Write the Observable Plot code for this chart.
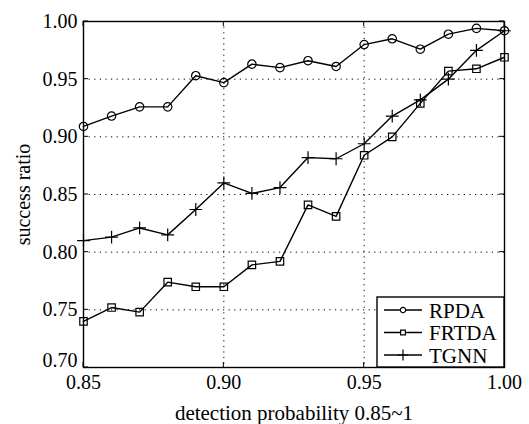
<!DOCTYPE html>
<html>
<head>
<meta charset="utf-8">
<script src="https://cdn.jsdelivr.net/npm/d3@7"></script>
<script src="https://cdn.jsdelivr.net/npm/@observablehq/plot@0.6"></script>
<style>
  html, body { margin: 0; padding: 0; background: #fff; }
  #chart svg { display: block; }
</style>
</head>
<body>
<div id="chart"></div>
<script>
const detectionProb = [0.85, 0.86, 0.87, 0.88, 0.89, 0.90, 0.91, 0.92, 0.93, 0.94, 0.95, 0.96, 0.97, 0.98, 0.99, 1.00];
const rpda  = [0.909, 0.918, 0.926, 0.926, 0.953, 0.947, 0.963, 0.960, 0.966, 0.961, 0.980, 0.985, 0.976, 0.989, 0.994, 0.992];
const frtda = [0.740, 0.752, 0.748, 0.774, 0.770, 0.770, 0.789, 0.792, 0.841, 0.831, 0.884, 0.900, 0.929, 0.957, 0.959, 0.969];
const tgnn  = [0.810, 0.813, 0.821, 0.815, 0.837, 0.860, 0.851, 0.856, 0.882, 0.881, 0.894, 0.918, 0.932, 0.950, 0.975, 0.992];
const seriesNames = ["RPDA", "FRTDA", "TGNN"];
const seriesSymbols = ["circle", "square", "plus"];
const xTicks = [0.85, 0.90, 0.95, 1.00];
const yTicks = [0.70, 0.75, 0.80, 0.85, 0.90, 0.95, 1.00];
const xLabel = "detection probability 0.85~1";
const yLabel = "success ratio";

const seriesValues = [rpda, frtda, tgnn];
const data = [];
seriesNames.forEach((name, i) => {
  detectionProb.forEach((x, j) => data.push({series: name, x, y: seriesValues[i][j]}));
});

const font = "'Liberation Serif', 'Times New Roman', serif";
const fmt = d3.format(".2f");

const plot = Plot.plot({
  width: 529,
  height: 424,
  marginLeft: 83,
  marginRight: 25,
  marginTop: 21,
  marginBottom: 57,
  style: {fontFamily: font, fontSize: "20px", color: "#000", background: "#fff"},
  x: {domain: [0.85, 1.00], ticks: xTicks, tickFormat: fmt},
  y: {domain: [0.70, 1.00], ticks: yTicks, tickFormat: fmt},
  symbol: {domain: seriesNames, range: seriesSymbols},
  marks: [
    Plot.gridX(xTicks.slice(1, -1), {stroke: "#000", strokeOpacity: 1, strokeWidth: 1, strokeDasharray: "1.2,4.4"}),
    Plot.gridY(yTicks.slice(1, -1), {stroke: "#000", strokeOpacity: 1, strokeWidth: 1, strokeDasharray: "1.2,4.4"}),
    Plot.axisX({ticks: xTicks, tickFormat: fmt, tickSize: 0, tickPadding: 7, fontSize: 20, label: null}),
    Plot.axisX({ticks: [], tickSize: 0, fontSize: 21, label: xLabel, labelAnchor: "center", labelOffset: 52, labelArrow: "none"}),
    Plot.axisY({ticks: yTicks.slice(1), tickFormat: fmt, tickSize: 0, tickPadding: 6, fontSize: 20, label: yLabel, labelAnchor: "center", labelOffset: 68, labelArrow: "none"}),
    Plot.axisY({ticks: yTicks.slice(0, 1), tickFormat: fmt, tickSize: 0, tickPadding: 6, fontSize: 20, dy: -7, label: null}),
    Plot.line(data, {x: "x", y: "y", z: "series", stroke: "#000", strokeWidth: 1.4}),
    Plot.dot(data, {x: "x", y: "y", symbol: "series", r: 4.2, stroke: "#000", strokeWidth: 1.2, fill: "none"}),
    Plot.frame({stroke: "#000", strokeWidth: 1.4})
  ]
});

document.getElementById("chart").appendChild(plot);

// inward tick marks and legend drawn via d3 on the plot's scales
const svg = d3.select(plot);
const sx = plot.scale("x"), sy = plot.scale("y");
const x0 = sx.apply(0.85), x1 = sx.apply(1.00), y0 = sy.apply(0.70), y1 = sy.apply(1.00);
const tk = svg.append("g").attr("stroke", "#000").attr("stroke-width", 1);
xTicks.forEach(t => {
  const px = sx.apply(t);
  tk.append("line").attr("x1", px).attr("x2", px).attr("y1", y0).attr("y2", y0 - 5);
  tk.append("line").attr("x1", px).attr("x2", px).attr("y1", y1).attr("y2", y1 + 5);
});
yTicks.forEach(t => {
  const py = sy.apply(t);
  tk.append("line").attr("x1", x0).attr("x2", x0 + 5).attr("y1", py).attr("y2", py);
  tk.append("line").attr("x1", x1).attr("x2", x1 - 5).attr("y1", py).attr("y2", py);
});

const legW = 127, legH = 70;
const lg = svg.append("g").attr("transform", `translate(${x1 - legW},${y0 - legH})`);
lg.append("rect").attr("width", legW).attr("height", legH).attr("fill", "#fff").attr("stroke", "#000").attr("stroke-width", 1.4);
const symbolTypes = {circle: d3.symbolCircle, square: d3.symbolSquare, plus: d3.symbolPlus};
seriesNames.forEach((name, i) => {
  const cy = 13 + i * 22.5;
  lg.append("line").attr("x1", 7).attr("x2", 45).attr("y1", cy).attr("y2", cy).attr("stroke", "#000").attr("stroke-width", 1.4);
  const sym = seriesSymbols[i];
  lg.append("path")
    .attr("transform", `translate(26,${cy})`)
    .attr("d", d3.symbol(symbolTypes[sym], sym === "plus" ? 40 : 22)())
    .attr("fill", sym === "plus" ? "none" : "#fff").attr("stroke", "#000").attr("stroke-width", 1.2);
  lg.append("text").attr("x", 52).attr("y", cy).attr("dy", "0.36em")
    .attr("text-anchor", "start")
    .style("font-family", font).style("font-size", "21px").attr("fill", "#000").text(name);
});
</script>
</body>
</html>
